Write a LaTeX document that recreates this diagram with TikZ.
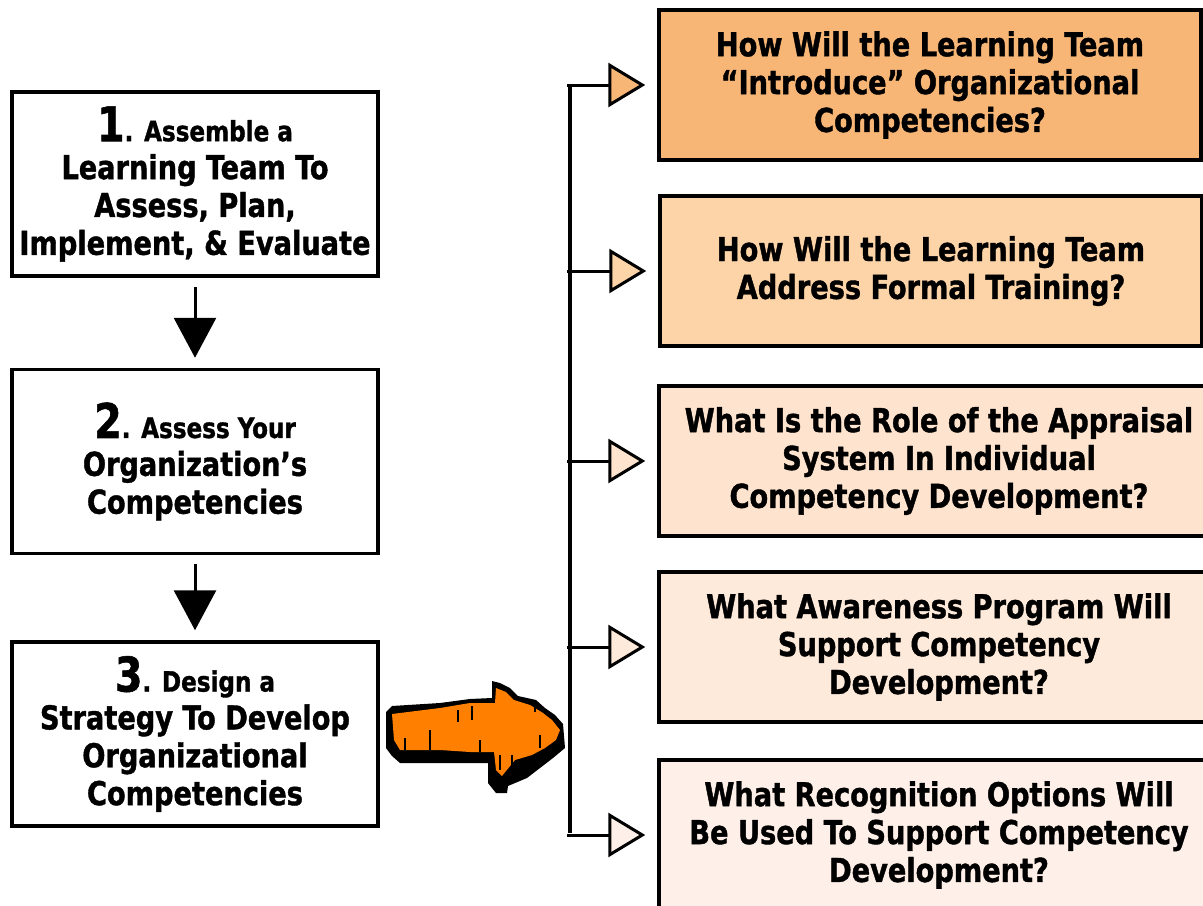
\documentclass[tikz,border=0pt]{standalone}
\usepackage{fontspec}
\setmainfont{DejaVu Sans Condensed}[FakeStretch=0.92, BoldFeatures={FakeBold=1.2}]
\usetikzlibrary{arrows.meta}
\definecolor{cA}{RGB}{248,182,118}
\definecolor{cB}{RGB}{253,212,168}
\definecolor{cC}{RGB}{254,228,206}
\definecolor{cD}{RGB}{254,234,218}
\definecolor{cE}{RGB}{254,240,232}
\definecolor{orng}{RGB}{255,128,0}
\tikzset{
  txt/.style={font=\fontsize{33}{38}\selectfont\bfseries, align=center, inner sep=0pt},
  leftbox/.style={draw, line width=3.5bp, minimum width=366bp, minimum height=184bp, txt},
  rightbox/.style={draw, line width=3.5bp, minimum width=542bp, minimum height=150bp, txt},
  downarrow/.style={line width=3bp, -{Triangle[width=42bp,length=40bp]}, shorten <=9bp, shorten >=10bp},
  sidearrow/.style={line width=3bp, -{Triangle[width=44bp,length=37bp,fill=#1]}, shorten >=12bp},
  trunk/.style={line width=3.5bp}
}
\newcommand{\bignum}[1]{{\fontsize{48}{38}\selectfont #1}}
\newcommand{\smallfirst}{\fontsize{28}{38}\selectfont}
\begin{document}
\begin{tikzpicture}[x=1bp,y=-1bp]
\useasboundingbox (0,0) rectangle (1203,906);
\fill[white] (0,0) rectangle (1203,906);
\begin{scope}
\clip (0,0) rectangle (1203,906);
% left column
\node[leftbox] (b1) at (195,184) {\bignum{1}{\smallfirst. Assemble a}\\Learning Team To\\Assess, Plan,\\Implement, \& Evaluate};
\node[leftbox] (b2) at (195,461.5) {\bignum{2}{\smallfirst. Assess Your}\\Organization's\\Competencies};
\node[leftbox] (b3) at (195,734) {\bignum{3}{\smallfirst. Design a}\\Strategy To Develop\\Organizational\\Competencies};
\draw[downarrow] (b1) -- (b2);
\draw[downarrow] (b2) -- (b3);
% right column
\node[rightbox, fill=cA] (rA) at (930,85) {How Will the Learning Team\\“Introduce” Organizational\\Competencies?};
\node[rightbox, fill=cB] (rB) at (931,271) {How Will the Learning Team\\Address Formal Training?};
\node[rightbox, fill=cC, minimum width=560bp] (rC) at (939,461) {What Is the Role of the Appraisal\\System In Individual\\Competency Development?};
\node[rightbox, fill=cD, minimum width=560bp] (rD) at (939,647) {What Awareness Program Will\\Support Competency\\Development?};
\node[rightbox, fill=cE, minimum width=560bp] (rE) at (939,835) {What Recognition Options Will\\Be Used To Support Competency\\Development?};
% trunk and branches
\coordinate (tr) at (570,0);
\draw[trunk] ([yshift=-2bp]tr |- rA.west) -- ([yshift=2bp]tr |- rE.west);
\draw[sidearrow=cA] ([xshift=-3bp]tr |- rA.west) -- (rA.west);
\draw[sidearrow=cB] ([xshift=-3bp]tr |- rB.west) -- (rB.west);
\draw[sidearrow=cC] ([xshift=-3bp]tr |- rC.west) -- (rC.west);
\draw[sidearrow=cD] ([xshift=-3bp]tr |- rD.west) -- (rD.west);
\draw[sidearrow=cE] ([xshift=-3bp]tr |- rE.west) -- (rE.west);
% big orange arrow
\fill[black] (386,712) -- (392,706) -- (440,703) -- (470,699) -- (492,698) -- (492,681) -- (500,683) -- (510,688) -- (518,696) -- (536,700) -- (545,708) -- (555,715) -- (563,724) -- (565,748) -- (553,758) -- (540,768) -- (527,778) -- (508,786) -- (507,793) -- (496,793) -- (488,783) -- (488,763) -- (400,763) -- (392,756) -- (386,748) -- cycle;
\fill[orng] (392,714) -- (440,708) -- (470,703) -- (495,703) -- (496,688) -- (506,692) -- (514,700) -- (530,705) -- (543,713) -- (552,720) -- (560,730) -- (556,740) -- (545,748) -- (532,755) -- (515,760) -- (502,776) -- (496,770) -- (494,752) -- (470,752) -- (440,750) -- (400,750) -- (394,740) -- cycle;
\begin{scope}[line width=2.5bp]
\draw (405,738) -- (405,750);
\draw (430,730) -- (430,750);
\draw (458,710) -- (458,722);
\draw (472,706) -- (472,720);
\draw (480,740) -- (480,752);
\draw (500,755) -- (500,770);
\draw (512,755) -- (512,765);
\draw (535,700) -- (535,712);
\draw (540,735) -- (540,748);
\end{scope}
\end{scope}
\end{tikzpicture}
\end{document}
